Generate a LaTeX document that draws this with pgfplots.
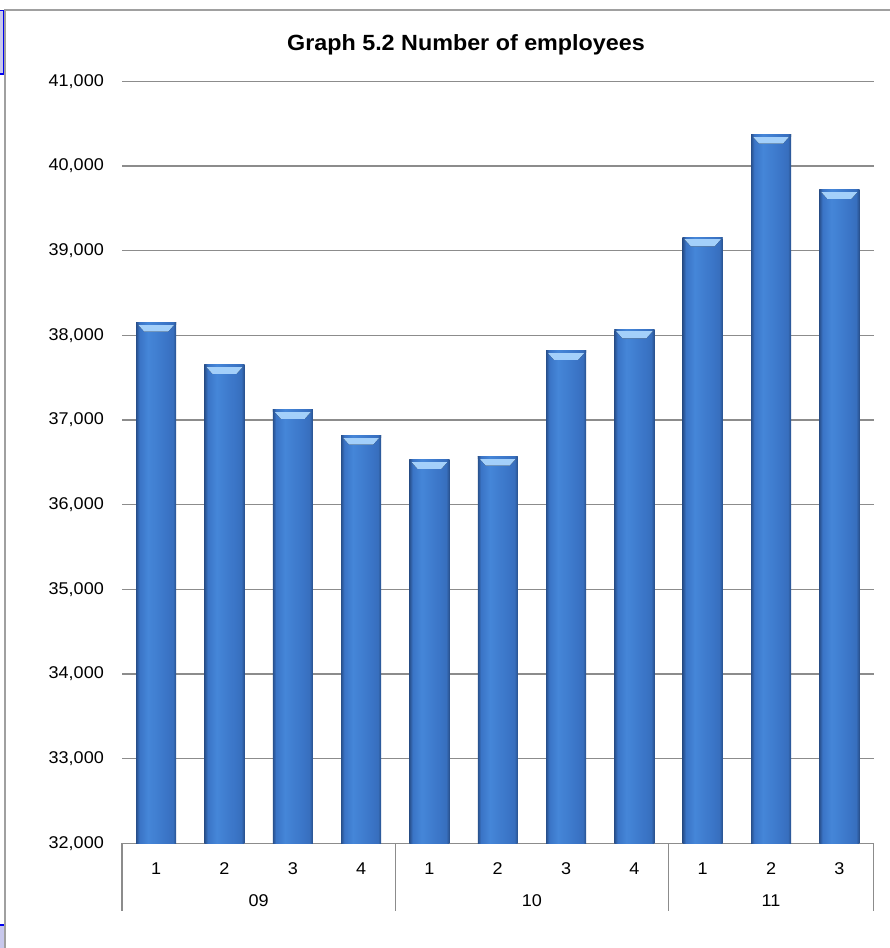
\documentclass[border=0pt]{standalone}
\usepackage{fontspec}
\setmainfont{Liberation Sans}[FakeStretch=1.06]
\usepackage{pgfplots}
\usepackage{pgfplotstable}
\pgfplotsset{compat=1.18}
\definecolor{barDark}{HTML}{28508C}
\definecolor{barMain}{HTML}{3A74C6}
\definecolor{barLight}{HTML}{4586D8}
\definecolor{bevelTop}{HTML}{A4D0FA}
\definecolor{bevelBot}{HTML}{6AA8EC}
\definecolor{gridGray}{HTML}{8C8C8C}
\definecolor{frameGray}{HTML}{A0A0A0}
\definecolor{selBlue}{HTML}{0000F0}
\definecolor{selFill}{HTML}{C8C8EC}
\pgfdeclarehorizontalshading{barshade}{100bp}{%
  color(0bp)=(barDark); color(25bp)=(barDark); color(29bp)=(barMain);
  color(40bp)=(barLight); color(64bp)=(barMain); color(71bp)=(barMain!85!barDark);
  color(75bp)=(barDark); color(100bp)=(barDark)}
\pgfplotstableread{
x  employees
0  38150
1  37650
2  37120
3  36815
4  36530
5  36567
6  37815
7  38071
8  39158
9  40370
10 39717
}\employeedata
\tikzset{bevel/.style={path picture={
      \fill[path picture={}, top color=bevelTop, bottom color=bevelBot]
        (path picture bounding box.north west)
        -- (path picture bounding box.north east)
        -- ([xshift=-8bp,yshift=-9bp]path picture bounding box.north east)
        -- ([xshift=8bp,yshift=-9bp]path picture bounding box.north west) -- cycle;
      \fill[path picture={}, bevelTop!60!white] (path picture bounding box.north west) rectangle ([yshift=-1.5bp]path picture bounding box.north east);
    }}}
\begin{document}
\begin{tikzpicture}
\useasboundingbox (0,0) rectangle (890bp,948bp);
% window frame and selection marks
\fill[selFill] (0,873bp) rectangle (4bp,938bp);
\draw[selBlue, line width=1.5bp] (0,873.75bp) -- (3.25bp,873.75bp) -- (3.25bp,937.25bp) -- (0,937.25bp);
\fill[selFill] (0,0) rectangle (4bp,23bp);
\draw[selBlue, line width=2bp] (0,23bp) -- (4bp,23bp);
\draw[frameGray, line width=2bp] (5bp,0) -- (5bp,938bp) -- (890bp,938bp);
% title
\node[font=\bfseries\fontsize{22bp}{25bp}\selectfont] at (466bp,903bp) {Graph 5.2 Number of employees};
\begin{axis}[
  at={(122bp,104.7bp)}, anchor=south west,
  scale only axis, width=751.5bp, height=762bp,
  xmin=-0.5, xmax=10.5, ymin=32000, ymax=41000,
  ytick={32000,33000,34000,35000,36000,37000,38000,39000,40000,41000},
  scaled y ticks=false,
  yticklabel={\pgfmathprintnumber[fixed, precision=0, 1000 sep={,}]{\tick}},
  xtick={0,1,2,3,4,5,6,7,8,9,10},
  xticklabels={1,2,3,4,1,2,3,4,1,2,3},
  axis x line*=bottom, axis y line*=left,
  y axis line style={draw=none},
  x axis line style={draw=gridGray, line width=1.2bp},
  ymajorgrids, grid style={gridGray, line width=1.2bp},
  major tick length=0pt, tick style={draw=none},
  yticklabel style={font=\fontsize{17bp}{19bp}\selectfont, anchor=east, inner sep=0pt, xshift=-18bp},
  xticklabel style={font=\fontsize{17bp}{19bp}\selectfont, anchor=north, inner sep=0pt, yshift=-19bp},
  /pgf/number format/assume math mode=true,
  clip=false,
]
\pgfplotsinvokeforeach{0,...,10}{
  \addplot[ybar, bar width=0.585, bar shift=0pt, draw=none,
    shading=barshade, bevel,
    restrict x to domain=#1:#1]
    table[x=x, y=employees] {\employeedata};
}
\draw[gridGray, line width=1.2bp] (axis cs:-0.5,32000) -- ([yshift=-68bp]axis cs:-0.5,32000);
\draw[gridGray, line width=1.2bp] (axis cs:3.5,32000) -- ([yshift=-68bp]axis cs:3.5,32000);
\draw[gridGray, line width=1.2bp] (axis cs:7.5,32000) -- ([yshift=-68bp]axis cs:7.5,32000);
\draw[gridGray, line width=1.2bp] (axis cs:10.5,32000) -- ([yshift=-68bp]axis cs:10.5,32000);
\node[font=\fontsize{17bp}{19bp}\selectfont] at (axis cs:1.5,32000) [yshift=-57bp] {09};
\node[font=\fontsize{17bp}{19bp}\selectfont] at (axis cs:5.5,32000) [yshift=-57bp] {10};
\node[font=\fontsize{17bp}{19bp}\selectfont] at (axis cs:9,32000) [yshift=-57bp] {11};
\end{axis}
\end{tikzpicture}
\end{document}
